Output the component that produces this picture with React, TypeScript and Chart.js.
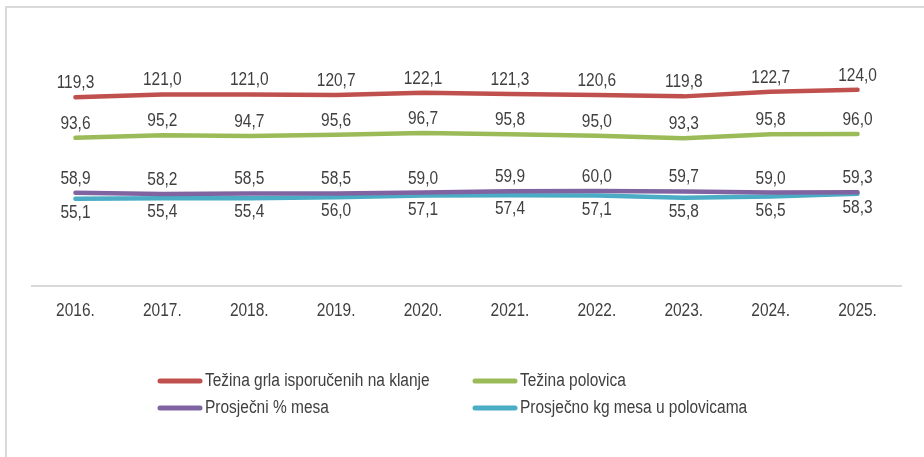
import React, { useEffect, useRef } from "react";
import { Chart, registerables } from "chart.js";

Chart.register(...registerables);

const categories = ["2016.", "2017.", "2018.", "2019.", "2020.", "2021.", "2022.", "2023.", "2024.", "2025."];
const tezinaGrla = [119.3, 121.0, 121.0, 120.7, 122.1, 121.3, 120.6, 119.8, 122.7, 124.0];
const tezinaPolovica = [93.6, 95.2, 94.7, 95.6, 96.7, 95.8, 95.0, 93.3, 95.8, 96.0];
const prosjecniPostotak = [58.9, 58.2, 58.5, 58.5, 59.0, 59.9, 60.0, 59.7, 59.0, 59.3];
const prosjecnoKg = [55.1, 55.4, 55.4, 56.0, 57.1, 57.4, 57.1, 55.8, 56.5, 58.3];
const seriesNames = [
  "Težina grla isporučenih na klanje",
  "Težina polovica",
  "Prosječni % mesa",
  "Prosječno kg mesa u polovicama",
];
const seriesColors = ["#C0504D", "#9BBB59", "#8064A2", "#4BACC6"];
const labelSide = ["above", "above", "above", "below"];

const FONT = "'Liberation Sans', Arial, sans-serif";
const NARROW = 0.86;
const TEXT = "#404040";

const fmt = (v: number) => v.toFixed(1).replace(".", ",");

function narrowText(ctx: CanvasRenderingContext2D, text: string, x: number, y: number) {
  ctx.save();
  ctx.translate(x, y);
  ctx.scale(NARROW, 1);
  ctx.fillText(text, 0, 0);
  ctx.restore();
}

const framePlugin = {
  id: "frame",
  beforeDraw(chart: any) {
    const ctx = chart.ctx;
    ctx.save();
    ctx.fillStyle = "#ffffff";
    ctx.fillRect(0, 0, chart.width, chart.height);
    ctx.strokeStyle = "#D9D9D9";
    ctx.lineWidth = 2;
    ctx.beginPath();
    ctx.moveTo(6, chart.height);
    ctx.lineTo(6, 7);
    ctx.lineTo(chart.width, 7);
    ctx.stroke();
    ctx.restore();
  },
};

const tickPlugin = {
  id: "narrowTicks",
  afterDraw(chart: any) {
    const ctx = chart.ctx;
    const sx = chart.scales.x;
    ctx.save();
    ctx.font = `18px ${FONT}`;
    ctx.fillStyle = TEXT;
    ctx.textAlign = "center";
    ctx.textBaseline = "middle";
    chart.data.labels.forEach((lab: string, i: number) => {
      narrowText(ctx, lab, sx.getPixelForTick(i), sx.top + 25);
    });
    ctx.restore();
  },
};

const labelsPlugin = {
  id: "valueLabels",
  afterDatasetsDraw(chart: any) {
    const ctx = chart.ctx;
    ctx.save();
    ctx.font = `18px ${FONT}`;
    ctx.fillStyle = TEXT;
    ctx.textAlign = "center";
    ctx.textBaseline = "middle";
    chart.data.datasets.forEach((ds: any, i: number) => {
      const meta = chart.getDatasetMeta(i);
      meta.data.forEach((pt: any, j: number) => {
        const dy = labelSide[i] === "above" ? -14 : 14;
        narrowText(ctx, fmt(ds.data[j]), pt.x, pt.y + dy);
      });
    });
    ctx.restore();
  },
};

const legendPlugin = {
  id: "customLegend",
  afterDraw(chart: any) {
    const ctx = chart.ctx;
    const cols = [158, 473];
    const rows = [381, 408];
    ctx.save();
    ctx.font = `18px ${FONT}`;
    ctx.textBaseline = "middle";
    ctx.textAlign = "left";
    chart.data.datasets.forEach((ds: any, i: number) => {
      const x = cols[i % 2];
      const y = rows[Math.floor(i / 2)];
      ctx.strokeStyle = ds.borderColor;
      ctx.lineWidth = 5;
      ctx.lineCap = "round";
      ctx.beginPath();
      ctx.moveTo(x + 2, y);
      ctx.lineTo(x + 42, y);
      ctx.stroke();
      ctx.fillStyle = TEXT;
      narrowText(ctx, ds.label, x + 47, y);
    });
    ctx.restore();
  },
};

export default function App() {
  const ref = useRef<HTMLCanvasElement | null>(null);
  useEffect(() => {
    if (!ref.current) return;
    const allData = [tezinaGrla, tezinaPolovica, prosjecniPostotak, prosjecnoKg];
    const chart = new Chart(ref.current, {
      type: "line",
      data: {
        labels: categories,
        datasets: allData.map((d, i) => ({
          label: seriesNames[i],
          data: d,
          borderColor: seriesColors[i],
          backgroundColor: seriesColors[i],
          borderWidth: 4.5,
          borderCapStyle: "round",
          borderJoinStyle: "round",
          pointRadius: 0,
          tension: 0,
          fill: false,
        })),
      },
      options: {
        animation: false,
        responsive: false,
        maintainAspectRatio: false,
        layout: { padding: { left: 32, right: 23, top: 64.4, bottom: 121.4 } },
        plugins: {
          legend: { display: false },
          tooltip: { enabled: false },
        },
        scales: {
          x: {
            offset: true,
            grid: { display: false, drawTicks: false },
            border: { display: true, color: "#D9D9D9", width: 2 },
            ticks: { color: "rgba(0,0,0,0)", font: { family: FONT, size: 18 }, padding: 14, maxRotation: 0, autoSkip: false },
          },
          y: {
            display: false,
            min: 0,
            max: 140,
          },
        },
      },
      plugins: [framePlugin, labelsPlugin, tickPlugin, legendPlugin],
    });
    return () => chart.destroy();
  }, []);
  return (
    <div style={{ position: "fixed", left: 0, top: 0, width: 924, height: 457 }}>
      <canvas ref={ref} width={924} height={457} style={{ width: 924, height: 457, display: "block" }} />
    </div>
  );
}
